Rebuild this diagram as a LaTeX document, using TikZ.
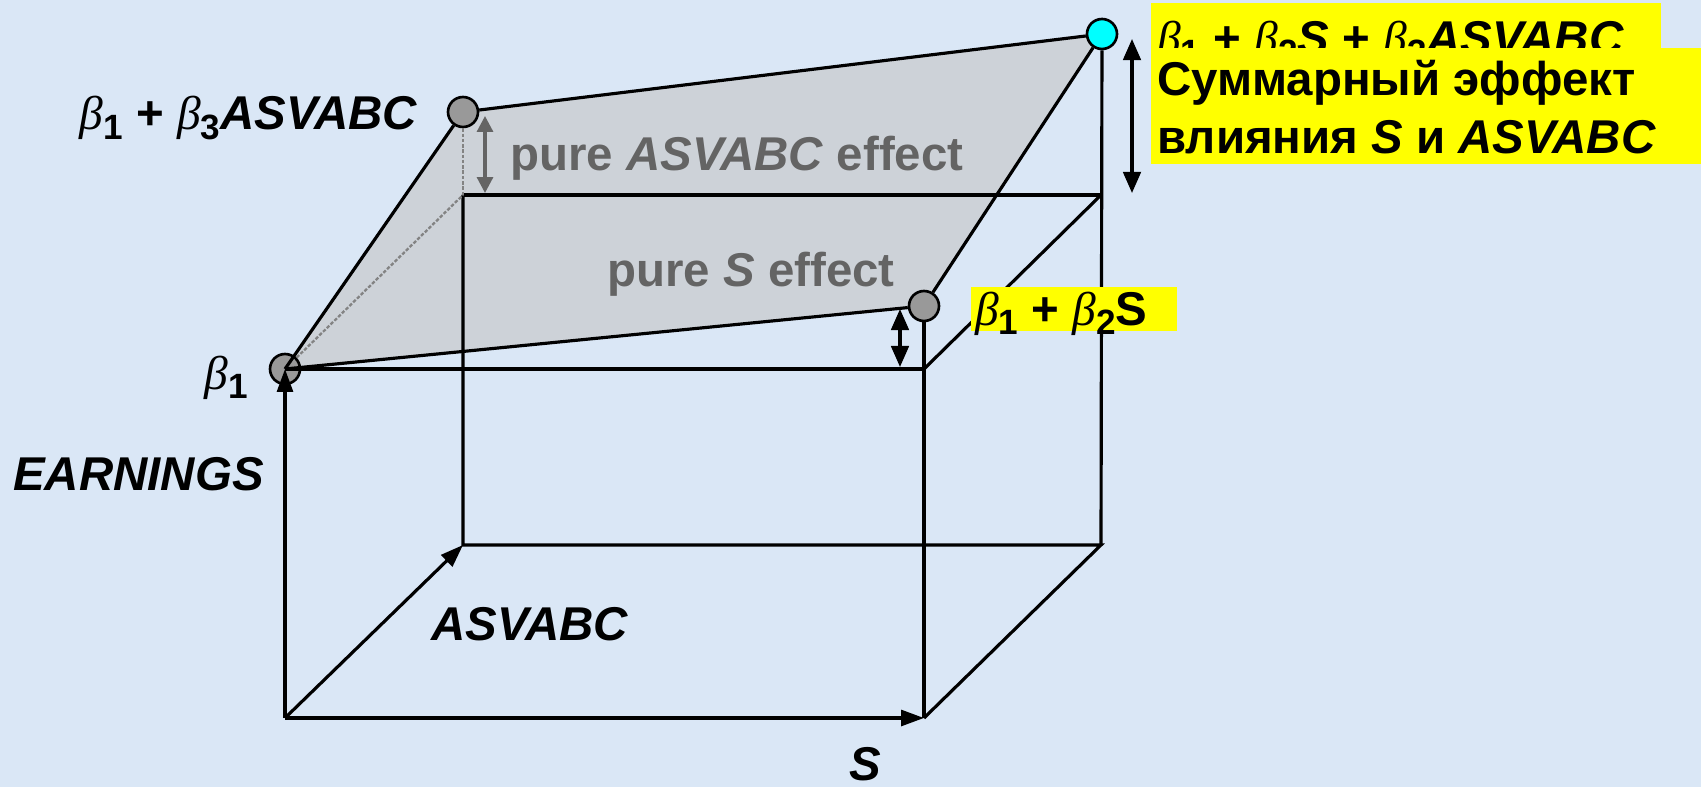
\documentclass[tikz,border=0pt]{standalone}
\usepackage{fontspec}
\setmainfont{Liberation Sans}
\newfontfamily\grk{Liberation Serif}
\usetikzlibrary{arrows.meta}
\pgfdeclarelayer{bg}
\pgfsetlayers{bg,main}
\definecolor{bgc}{RGB}{218,231,246}
\definecolor{planec}{RGB}{205,210,216}
\definecolor{ptc}{RGB}{153,153,153}
\definecolor{gtc}{RGB}{100,100,100}
\definecolor{cyanpt}{RGB}{0,255,255}
\definecolor{yel}{RGB}{255,255,0}
\newcommand\bt{{\grk\mdseries\itshape β}}
\newcommand\sbs[1]{\raisebox{-5.5pt}{\fontsize{20}{20}\selectfont\bfseries\upshape #1}}
\tikzset{
  lab/.style={inner sep=0pt, font=\fontsize{27}{32}\selectfont\bfseries},
  gtext/.style={lab, text=gtc},
  pt/.style={circle, draw=black, line width=1.5pt, fill=ptc, minimum size=0.6cm, inner sep=0pt},
  edge/.style={line width=1.8pt, black},
  axisarr/.style={line width=1.8pt, black, -{Triangle[length=13pt,width=9pt]}},
  dblarr/.style={line width=1.8pt, black, {Triangle[length=12pt,width=10pt]}-{Triangle[length=12pt,width=10pt]}},
  gdblarr/.style={line width=1.8pt, gtc, {Triangle[length=9pt,width=9pt]}-{Triangle[length=9pt,width=9pt]}},
  hidden/.style={line width=1.3pt, gtc!80, dash pattern=on 2pt off 1pt},
  ybox/.style={fill=yel}
}
\begin{document}
\begin{tikzpicture}[x=0.02cm,y=-0.02cm]
\useasboundingbox (0,0) rectangle (1701,787);
% corners of the box
\coordinate (FBL) at (285,718);
\coordinate (FBR) at (924,718);
\coordinate (BBL) at (463,545);
\coordinate (BBR) at (1101,545);
\coordinate (FTR) at (924,369);
\coordinate (BTL) at (463,195);
\coordinate (BTR) at (1101,195);
% points
\node[pt] (O) at (285,369) {};
% lines from O over its circle
\draw[edge] (O.center) -- (FTR);
\draw[axisarr] (FBL) -- (O.center);
\node[pt] (P13) at (463,112) {};
\node[pt] (P2) at (924,306) {};
\node[pt, fill=cyanpt] (P3) at (1102,34) {};
\begin{pgfonlayer}{bg}
  \fill[bgc] (0,0) rectangle (1701,787);
  \fill[planec] (O.center) -- (P13.center) -- (P3.center) -- (P2.center) -- cycle;
\end{pgfonlayer}
% plane edges
\draw[edge] (O.center) -- (P13);
\draw[edge] (P13) -- (P3);
\draw[edge] (P3) -- (P2);
\draw[edge] (P2) -- (O.center);
% box edges
\draw[edge] (P2) -- (FTR) -- (FBR);
\draw[edge] (FTR) -- (BTR);
\draw[edge] (BTL) -- (BTR);
\draw[edge] (BTL) -- (BBL) -- (BBR) -- (FBR);
\draw[edge] (P3) -- (BBR);
\draw[hidden] (O) -- (BTL);
\draw[hidden] (P13) -- (BTL);
% axes
\draw[axisarr] (FBL) -- (FBR);
\draw[axisarr] (FBL) -- (BBL);
% effect arrows
\coordinate (g1) at (485,116);
\coordinate (g2) at (485,193);
\draw[gdblarr] (g1) -- (g2);
\coordinate (s1) at (900,309);
\coordinate (s2) at (900,367);
\draw[dblarr] (s1) -- (s2);
\coordinate (t1) at (1132,39);
\coordinate (t2) at (1132,193);
\draw[dblarr] (t1) -- (t2);
% labels
\node[lab, anchor=base east] (l13) at (418,130) {\bt\sbs{1} + \bt\sbs{3}\textit{ASVABC}};
\node[lab, anchor=base east] (l1) at (248,389) {\bt\sbs{1}};
\node[lab, anchor=base west] (le) at (13,490) {\textit{EARNINGS}};
\node[lab, anchor=base west] (la) at (431,640) {\textit{ASVABC}};
\node[lab, anchor=base west] (ls) at (849,780) {\textit{S}};
\node[gtext, anchor=base west] (pa) at (510,171) {pure \textit{ASVABC} effect};
\node[gtext, anchor=base west] (ps) at (607,287) {pure \textit{S} effect};
% yellow label b1+b2S
\fill[ybox] (971,287) rectangle (1177,331);
\node[lab, anchor=base west] (l2) at (975,325) {\bt\sbs{1} + \bt\sbs{2}S};
% top yellow label
\fill[ybox] (1151,3) rectangle (1661,48);
\node[lab, anchor=base west] (l3) at (1157,55) {\bt\sbs{1} + \bt\sbs{2}\textit{S} + \bt\sbs{3}\textit{ASVABC}};
\fill[ybox] (1151,48) rectangle (1701,164);
\node[lab, anchor=base west] (r1) at (1157,96) {Суммарный эффект};
\node[lab, anchor=base west] (r2) at (1157,154) {влияния \textit{S} и \textit{ASVABC}};
\end{tikzpicture}
\end{document}
